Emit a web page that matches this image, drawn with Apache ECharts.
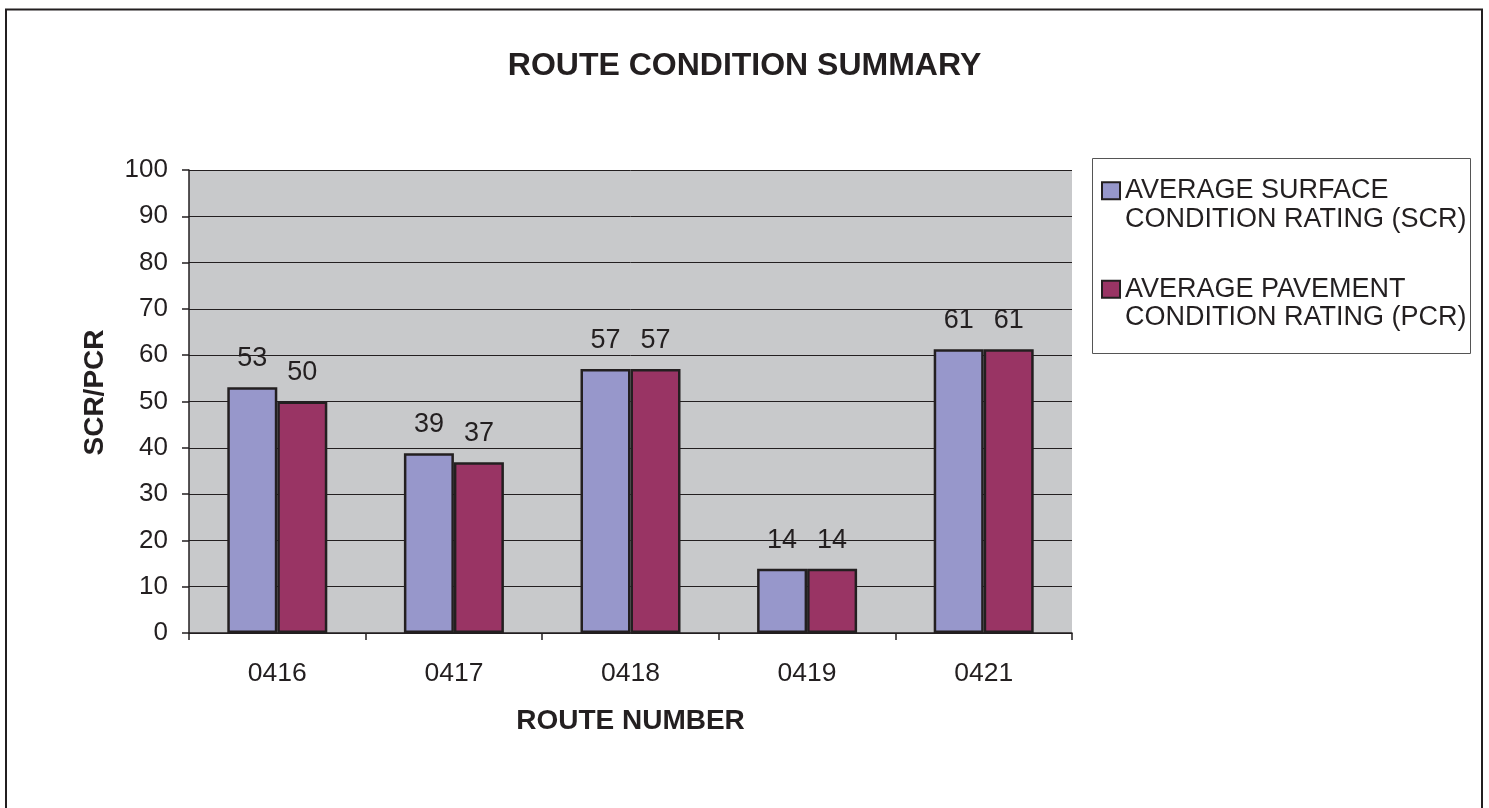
<!DOCTYPE html>
<html>
<head>
<meta charset="utf-8">
<title>Route Condition Summary</title>
<script src="https://cdn.jsdelivr.net/npm/echarts@6/dist/echarts.min.js"></script>
<style>
  html, body { margin: 0; padding: 0; background: #fff; }
  #chart { width: 1489px; height: 808px; }
</style>
</head>
<body>
<div id="chart"></div>
<script>
// --- Data ---
const routes = ['0416', '0417', '0418', '0419', '0421'];
const scrValues = [53.1, 38.8, 57.0, 13.9, 61.3];
const pcrValues = [50.0, 36.9, 57.0, 13.9, 61.3];
const seriesNames = [
    'AVERAGE SURFACE\nCONDITION RATING (SCR)',
    'AVERAGE PAVEMENT\nCONDITION RATING (PCR)'
];

const FONT = '"Liberation Sans", Arial, sans-serif';
const INK = '#231f20';

const chart = echarts.init(document.getElementById('chart'), null, { renderer: 'canvas' });

// bar label: rounded value sitting above the bar
const barLabel = {
    show: true,
    position: 'top',
    distance: 15,
    fontFamily: FONT,
    fontSize: 27,
    color: INK,
    formatter: p => Math.round(p.value)
};

chart.setOption({
    animation: false,
    backgroundColor: '#fff',
    textStyle: { fontFamily: FONT },
    title: {
        text: 'ROUTE CONDITION SUMMARY',
        left: 'center',
        top: 45,
        textStyle: { fontFamily: FONT, fontSize: 32, fontWeight: 'bold', color: INK }
    },
    // outer frame + legend frame (decoration only)
    graphic: [
        {
            type: 'rect',
            shape: { x: 6, y: 9.5, width: 1476, height: 830 },
            style: { fill: 'none', stroke: INK, lineWidth: 2 },
            silent: true
        },
        {
            type: 'rect',
            shape: { x: 1092.5, y: 158.5, width: 378, height: 195 },
            style: { fill: '#fff', stroke: '#555', lineWidth: 1 },
            silent: true,
            z: -1
        }
    ],
    legend: {
        orient: 'vertical',
        left: 1096,
        top: 143,
        itemWidth: 18,
        itemHeight: 17,
        itemGap: 13,
        icon: 'rect',
        selectedMode: false,
        // leading blank line puts the first text line level with the swatch
        formatter: name => '\n' + name,
        textStyle: {
            fontFamily: FONT,
            fontSize: 27,
            color: INK,
            lineHeight: 28.5
        },
        data: seriesNames
    },
    grid: { left: 189, top: 170, right: 417, bottom: 175, backgroundColor: '#c8c9cb', show: true, borderWidth: 0 },
    xAxis: {
        type: 'category',
        data: routes,
        name: 'ROUTE NUMBER',
        nameLocation: 'middle',
        nameGap: 74,
        nameTextStyle: { fontFamily: FONT, fontSize: 28, fontWeight: 'bold', color: INK },
        axisLine: { lineStyle: { color: INK, width: 1.5 } },
        axisTick: { show: true, length: 7, lineStyle: { color: INK, width: 1.5 } },
        axisLabel: { fontFamily: FONT, fontSize: 26.5, color: INK, margin: 27 }
    },
    yAxis: {
        type: 'value',
        min: 0,
        max: 100,
        interval: 10,
        name: 'SCR/PCR',
        nameLocation: 'middle',
        nameGap: 80,
        nameTextStyle: { fontFamily: FONT, fontSize: 28, fontWeight: 'bold', color: INK, padding: [0, 0, 0, 18] },
        axisLine: { show: true, lineStyle: { color: INK, width: 1.5 } },
        axisTick: { show: true, length: 7, lineStyle: { color: INK, width: 1.5 } },
        axisLabel: { fontFamily: FONT, fontSize: 26, color: INK, margin: 21 },
        splitLine: { lineStyle: { color: INK, width: 1 } }
    },
    series: [
        {
            name: seriesNames[0],
            type: 'bar',
            data: scrValues,
            barWidth: 50,
            barGap: '0%',
            itemStyle: { color: '#9797cb', borderColor: INK, borderWidth: 2.5 },
            label: barLabel
        },
        {
            name: seriesNames[1],
            type: 'bar',
            data: pcrValues,
            barWidth: 50,
            itemStyle: { color: '#993464', borderColor: INK, borderWidth: 2.5 },
            label: barLabel
        }
    ]
});
</script>
</body>
</html>
